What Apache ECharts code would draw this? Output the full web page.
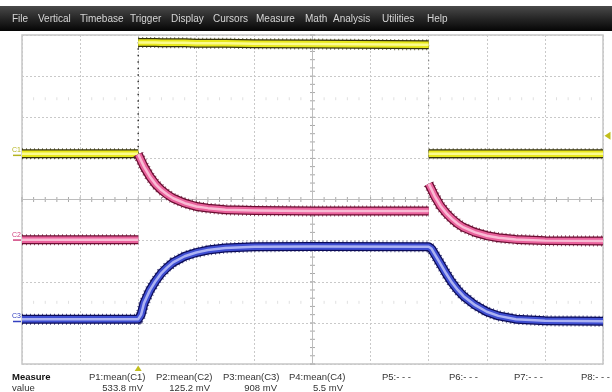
<!DOCTYPE html>
<html>
<head>
<meta charset="utf-8">
<script src="https://cdn.jsdelivr.net/npm/echarts/dist/echarts.min.js"></script>
<style>
html, body { margin: 0; padding: 0; background: #fff; }
#scope { width: 612px; height: 392px; }
</style>
</head>
<body>
<div id="scope"></div>
<script>
// Horizontal axis: time in divisions (10 across); vertical: divisions (8 high)
const menuItems = ['File', 'Vertical', 'Timebase', 'Trigger', 'Display', 'Cursors', 'Measure', 'Math', 'Analysis', 'Utilities', 'Help'];
const menuX = [12, 38, 80, 130, 171, 213, 256, 305, 333, 382, 427];

const measureNames = ['P1:mean(C1)', 'P2:mean(C2)', 'P3:mean(C3)', 'P4:mean(C4)', 'P5:- - -', 'P6:- - -', 'P7:- - -', 'P8:- - -'];
const measureValues = ['533.8 mV', '125.2 mV', '908 mV', '5.5 mV', '', '', '', ''];
const measureX = [89, 156, 223, 289, 382, 449, 514, 581];

// sample times (divisions) for each part of the record
const tPre = [0, 2];
const tOn = [2, 2.05, 2.1, 2.2, 2.3, 2.4, 2.5, 2.6, 2.8, 3.0, 3.2, 3.5, 4.0, 5.0, 7.0];
const tOff = [7, 7.05, 7.1, 7.2, 7.3, 7.4, 7.5, 7.6, 7.8, 8.0, 8.2, 8.5, 9.0, 10.0];

// C1 (yellow)
const c1Pre = [5.11, 5.11];
const c1On = [7.82, 7.82, 7.82, 7.82, 7.82, 7.81, 7.81, 7.81, 7.81, 7.80, 7.80, 7.80, 7.79, 7.78, 7.76];
const c1Off = [5.11, 5.11, 5.11, 5.11, 5.11, 5.11, 5.11, 5.11, 5.11, 5.11, 5.11, 5.11, 5.11, 5.11];
// C2 (pink)
const c2Pre = [3.02, 3.02];
const c2On = [5.10, 4.95, 4.80, 4.56, 4.37, 4.23, 4.12, 4.03, 3.91, 3.83, 3.79, 3.75, 3.73, 3.72, 3.72];
const c2Off = [4.38, 4.24, 4.09, 3.85, 3.67, 3.53, 3.41, 3.32, 3.20, 3.12, 3.07, 3.03, 3.00, 2.99];
// C3 (blue)
const c3Pre = [1.09, 1.09];
const c3On = [1.09, 1.20, 1.48, 1.79, 2.02, 2.21, 2.35, 2.47, 2.62, 2.71, 2.77, 2.82, 2.85, 2.86, 2.85];
const c3Off = [2.85, 2.80, 2.68, 2.44, 2.20, 1.98, 1.80, 1.65, 1.43, 1.27, 1.17, 1.09, 1.05, 1.04];

const channelLevels = [5.11, 3.05, 1.07];
const channelNames = ['C1', 'C2', 'C3'];
const channelText = ['#b4b41e', '#d0407e', '#3440c0'];
const triggerLevel = 5.55;
const triggerTime = 2;

const zip = (ts, vs) => ts.map((t, i) => [t, vs[i]]);

const palettes = {
  c1: { dark: '#34320a', mid: '#e8e81c', light: '#fbfb8e' },
  c2: { dark: '#6a0d31', mid: '#e9629c', light: '#f9bcd5' },
  c3: { dark: '#0b0b58', mid: '#3f4ed2', light: '#acb3f3' }
};

function bandSeries(segments, pal) {
  const out = [];
  const layers = [
    { color: pal.dark, width: 11, type: [1, 3], opacity: 0.7 },
    { color: pal.dark, width: 9, type: 'solid', opacity: 1 },
    { color: pal.mid, width: 6.5, type: 'solid', opacity: 1 },
    { color: pal.light, width: 2.5, type: 'solid', opacity: 1 }
  ];
  layers.forEach(l => {
    segments.forEach(seg => {
      out.push({
        type: 'line', data: seg, symbol: 'none', silent: true, animation: false,
        lineStyle: { color: l.color, width: l.width, type: l.type, opacity: l.opacity, cap: 'butt', join: 'round' },
        z: 3
      });
    });
  });
  return out;
}

const c1Segs = [zip(tPre, c1Pre), zip(tOn, c1On), zip(tOff, c1Off)];
const c2Segs = [zip(tPre, c2Pre), zip(tOn, c2On), zip(tOff, c2Off)];
const c3Segs = [zip(tPre, c3Pre).concat(zip(tOn, c3On).slice(1)).concat(zip(tOff, c3Off).slice(1))];

// graticule ticks along the centre cross and two faint rows
const centreTicks = [];
const faintTicks = [];
for (let i = 0; i <= 50; i++) {
  const x = i / 5;
  centreTicks.push([x, 4, 1]);
  if (i % 5 !== 0) { faintTicks.push([x, 6.45, 1]); faintTicks.push([x, 1.5, 1]); }
}
for (let j = 0; j <= 40; j++) centreTicks.push([5, j / 5, 0]);

function tickRenderer(len, color) {
  return function (params, api) {
    const p = api.coord([api.value(0), api.value(1)]);
    const vert = api.value(2) === 1;
    return {
      type: 'line',
      shape: vert ? { x1: p[0], y1: p[1] - len, x2: p[0], y2: p[1] + len }
                  : { x1: p[0] - len, y1: p[1], x2: p[0] + len, y2: p[1] },
      style: { stroke: color, lineWidth: 1 }
    };
  };
}

const grid = { left: 22, top: 35, width: 581, height: 329, show: true, borderColor: '#c6c6c6', borderWidth: 1.5, backgroundColor: '#fff' };
const splitStyle = { show: true, lineStyle: { color: '#c9c9c9', type: [2, 2], width: 1 } };

const series = [
  {
    type: 'custom', data: centreTicks, renderItem: tickRenderer(2.5, '#a8a8a8'),
    silent: true, animation: false, z: 1
  },
  {
    type: 'custom', data: faintTicks, renderItem: tickRenderer(1.5, '#e0e0e0'),
    silent: true, animation: false, z: 1
  },
  {
    type: 'line', data: [[0, 4], [10, 4]], symbol: 'none', silent: true, animation: false,
    lineStyle: { color: '#bdbdbd', width: 1 }, z: 1
  },
  {
    type: 'line', data: [[5, 0], [5, 8]], symbol: 'none', silent: true, animation: false,
    lineStyle: { color: '#bdbdbd', width: 1 }, z: 1
  },
  // dotted step edges of C1
  {
    type: 'line', data: [[2, c1Pre[1]], [2, c1On[0]]], symbol: 'none', silent: true, animation: false,
    lineStyle: { color: '#222', width: 1.4, type: [1.5, 5] }, z: 2
  },
  {
    type: 'line', data: [[7, c1On[c1On.length - 1]], [7, c1Off[0]]], symbol: 'none', silent: true, animation: false,
    lineStyle: { color: '#777', width: 1, type: [1.5, 6] }, z: 2
  }
].concat(bandSeries(c1Segs, palettes.c1))
 .concat(bandSeries(c3Segs, palettes.c3))
 .concat(bandSeries(c2Segs, palettes.c2));

const chart = echarts.init(document.getElementById('scope'), null, { renderer: 'canvas' });
chart.setOption({
  backgroundColor: '#fff',
  animation: false,
  grid: grid,
  xAxis: {
    type: 'value', min: 0, max: 10, interval: 1,
    axisLine: { show: false }, axisTick: { show: false }, axisLabel: { show: false },
    splitLine: splitStyle
  },
  yAxis: {
    type: 'value', min: 0, max: 8, interval: 1,
    axisLine: { show: false }, axisTick: { show: false }, axisLabel: { show: false },
    splitLine: splitStyle
  },
  series: series
});

const toPx = (x, y) => chart.convertToPixel({ gridIndex: 0 }, [x, y]);
const fam = "'Liberation Sans', Arial, sans-serif";
const graphics = [];

function label(text, x, y, size, color, opts) {
  const o = opts || {};
  return {
    type: 'text', x: x, y: y, z: 11, rotation: 0,
    style: {
      text: text, fill: color, fontSize: size, fontFamily: fam,
      fontWeight: o.bold ? 'bold' : 'normal',
      align: o.align || 'left', verticalAlign: 'middle'
    }
  };
}

// menu bar
graphics.push({
  type: 'rect', shape: { x: 0, y: 6, width: 612, height: 25 },
  style: { fill: new echarts.graphic.LinearGradient(0, 0, 0, 1, [
    { offset: 0, color: '#4a4a4a' }, { offset: 0.5, color: '#262626' }, { offset: 1, color: '#050505' }
  ]) }, z: 10
});
menuItems.forEach((m, i) => graphics.push(label(m, menuX[i], 19, 10, '#d6d6d6')));

// channel offset markers on the left
channelNames.forEach((n, i) => {
  const p = toPx(0, channelLevels[i]);
  graphics.push(label(n, 12, p[1] - 3.5, 7, channelText[i]));
  graphics.push({
    type: 'line', shape: { x1: 13, y1: p[1] + 1.5, x2: 21, y2: p[1] + 1.5 }, z: 11,
    style: { stroke: channelText[i], lineWidth: 1.5 }
  });
});

// trigger level marker (right) and trigger position marker (bottom)
const tl = toPx(10, triggerLevel);
graphics.push({
  type: 'polygon', z: 11,
  shape: { points: [[tl[0] + 1.5, tl[1]], [tl[0] + 7.5, tl[1] - 4], [tl[0] + 7.5, tl[1] + 4]] },
  style: { fill: '#c2be1c' }
});
const tp = toPx(triggerTime, 0);
graphics.push({
  type: 'polygon', z: 11,
  shape: { points: [[tp[0], tp[1] + 1.5], [tp[0] - 3.5, tp[1] + 7], [tp[0] + 3.5, tp[1] + 7]] },
  style: { fill: '#c2be1c' }
});

// measurement table
graphics.push(label('Measure', 12, 377, 9.5, '#111', { bold: true }));
graphics.push(label('value', 12, 388, 9.5, '#333'));
measureNames.forEach((n, i) => {
  graphics.push(label(n, measureX[i], 377, 9.5, '#333'));
  if (measureValues[i]) {
    graphics.push(label(measureValues[i], measureX[i] + 54, 388, 9.5, '#333', { align: 'right' }));
  }
});

chart.setOption({ graphic: { elements: graphics } });
</script>
</body>
</html>
